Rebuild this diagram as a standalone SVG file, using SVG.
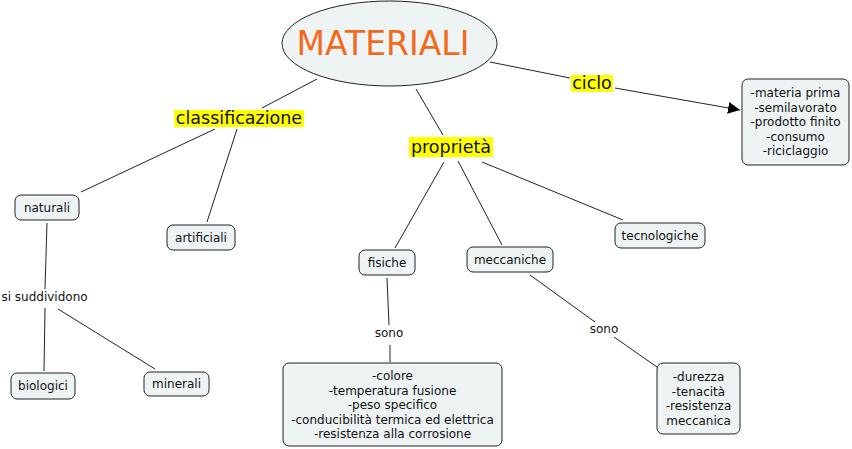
<svg xmlns="http://www.w3.org/2000/svg" width="852" height="449" viewBox="0 0 852 449">
<style>
.bg{fill:#ffffff}
.node rect{fill:#eef3f4;stroke:#222;stroke-width:1}
.t{font-family:"DejaVu Sans",Verdana,sans-serif;font-size:12px;fill:#111;text-anchor:middle}
.lbl{font-family:"DejaVu Sans",Verdana,sans-serif;font-size:17.5px;fill:#111;text-anchor:middle}
.hl{fill:#ffff00}
.edges line{stroke:#222;stroke-width:1}
</style>
<defs>
<marker id="arr" viewBox="0 0 10 10" refX="10" refY="5" markerWidth="12" markerHeight="12" markerUnits="userSpaceOnUse" orient="auto">
<path d="M0,0 L10,5 L0,10 z" fill="#000"/>
</marker>
</defs>
<rect class="bg" x="0" y="0" width="852" height="449"/>
<g id="connectors" class="edges">
<line x1="317" y1="79" x2="262" y2="108"/>
<line x1="215" y1="129" x2="81" y2="192"/>
<line x1="237" y1="129" x2="207" y2="222"/>
<line x1="47" y1="223" x2="45" y2="289"/>
<line x1="45" y1="308" x2="44" y2="371"/>
<line x1="58" y1="309" x2="155" y2="369"/>
<line x1="416" y1="89" x2="443" y2="135"/>
<line x1="444" y1="162" x2="395" y2="248"/>
<line x1="458" y1="161" x2="502" y2="245"/>
<line x1="482" y1="162" x2="623" y2="220"/>
<line x1="387" y1="278" x2="389" y2="325"/>
<line x1="390" y1="345" x2="390" y2="362"/>
<line x1="530" y1="275" x2="595" y2="322"/>
<line x1="614" y1="337" x2="657" y2="367"/>
<line x1="490" y1="62" x2="570" y2="78"/>
<line x1="615" y1="88" x2="740" y2="110" marker-end="url(#arr)"/>
</g>
<g id="materiali">
<ellipse cx="389.5" cy="43.5" rx="107.5" ry="42.5" fill="#eef3f4" stroke="#222" stroke-width="1"/>
<text x="383" y="55" font-family="DejaVu Sans,Verdana,sans-serif" font-size="33" fill="#f26b1d" text-anchor="middle">MATERIALI</text>
</g>
<g id="lbl-classificazione">
<rect class="hl" x="174" y="110" width="130" height="17"/>
<text class="lbl" x="239" y="124">classificazione</text>
</g>
<g id="lbl-proprieta">
<rect class="hl" x="409" y="137" width="84" height="20"/>
<text class="lbl" x="451" y="153">proprietà</text>
</g>
<g id="lbl-ciclo">
<rect class="hl" x="571" y="75" width="42" height="17"/>
<text class="lbl" x="592" y="89">ciclo</text>
</g>
<g id="lbl-suddividono"><text class="t" x="44.5" y="301">si suddividono</text></g>
<g id="lbl-sono1"><text class="t" x="389" y="337">sono</text></g>
<g id="lbl-sono2"><text class="t" x="604" y="333">sono</text></g>
<g id="naturali" class="node"><rect x="15" y="195" width="64" height="25" rx="6"/><text class="t" x="47" y="212">naturali</text></g>
<g id="artificiali" class="node"><rect x="167" y="225" width="68" height="25" rx="6"/><text class="t" x="201" y="242">artificiali</text></g>
<g id="biologici" class="node"><rect x="11" y="373" width="64" height="26" rx="6"/><text class="t" x="43" y="390">biologici</text></g>
<g id="minerali" class="node"><rect x="144" y="372" width="65" height="24" rx="6"/><text class="t" x="176.5" y="388">minerali</text></g>
<g id="fisiche" class="node"><rect x="359" y="250" width="56" height="25" rx="6"/><text class="t" x="387" y="267">fisiche</text></g>
<g id="meccaniche" class="node"><rect x="467" y="247" width="86" height="25" rx="6"/><text class="t" x="510" y="264">meccaniche</text></g>
<g id="tecnologiche" class="node"><rect x="615" y="223" width="90" height="25" rx="6"/><text class="t" x="660" y="240">tecnologiche</text></g>
<g id="ciclo-list" class="node"><rect x="742" y="79" width="107" height="86" rx="6"/>
<text class="t" x="795.5" y="97">-materia prima</text>
<text class="t" x="795.5" y="111.5">-semilavorato</text>
<text class="t" x="795.5" y="126">-prodotto finito</text>
<text class="t" x="795.5" y="140.5">-consumo</text>
<text class="t" x="795.5" y="155">-riciclaggio</text>
</g>
<g id="fisiche-list" class="node"><rect x="283" y="363" width="219" height="83" rx="6"/>
<text class="t" x="392.5" y="380">-colore</text>
<text class="t" x="392.5" y="394.5">-temperatura fusione</text>
<text class="t" x="392.5" y="409">-peso specifico</text>
<text class="t" x="392.5" y="423.5">-conducibilità termica ed elettrica</text>
<text class="t" x="392.5" y="438">-resistenza alla corrosione</text>
</g>
<g id="meccaniche-list" class="node"><rect x="657" y="363" width="83" height="71" rx="6"/>
<text class="t" x="698.5" y="381">-durezza</text>
<text class="t" x="698.5" y="395.5">-tenacità</text>
<text class="t" x="698.5" y="410">-resistenza</text>
<text class="t" x="698.5" y="424.5">meccanica</text>
</g>
</svg>
